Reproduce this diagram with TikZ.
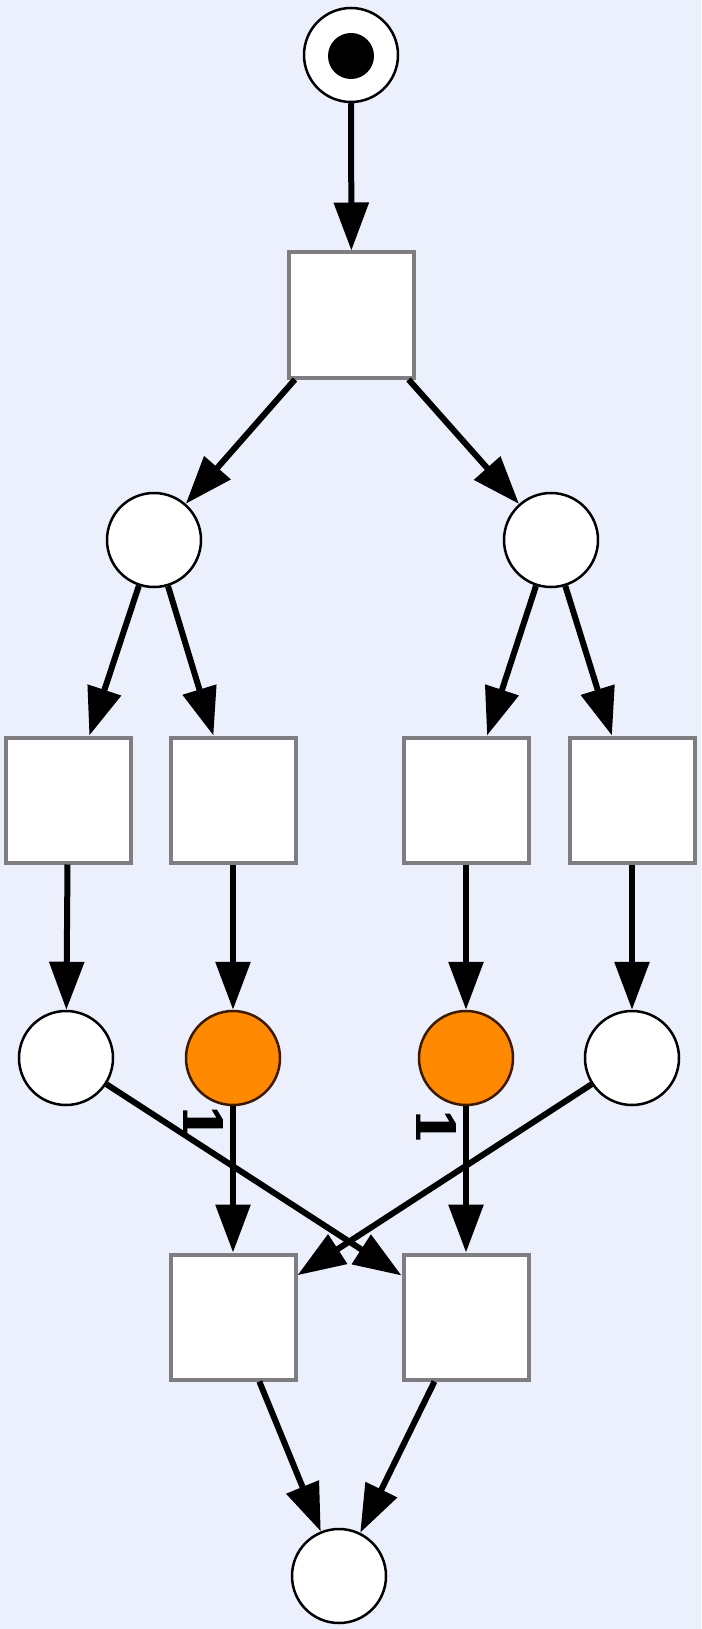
\documentclass[tikz,border=0pt]{standalone}
\usepackage{fontspec}
\setmainfont{DejaVu Serif}
\newfontfamily\heavyserif[FakeBold=2.5]{DejaVu Serif Bold}
\usetikzlibrary{arrows.meta}

\definecolor{canvas}{RGB}{236,240,252}
\definecolor{boxline}{RGB}{125,125,130}
\definecolor{hot}{RGB}{255,137,0}
\definecolor{hotline}{RGB}{60,25,0}

\tikzset{
  place/.style={circle, draw=black, fill=white, line width=2.5pt,
    minimum size=94pt, inner sep=0pt},
  hotplace/.style={place, fill=hot, draw=hotline},
  trans/.style={rectangle, draw=boxline, fill=white, line width=4pt,
    minimum size=125pt, inner sep=0pt},
  token/.style={circle, fill=black, minimum size=46pt, inner sep=0pt},
  arc/.style={draw=black, line width=6pt,
    -{Triangle[length=48pt,width=34pt]}},
  weight/.style={font=\fontsize{52}{52}\heavyserif, rotate=-90,
    inner sep=0pt}
}

\begin{document}
\begin{tikzpicture}[x=1pt, y=-1pt]
  % canvas
  \fill[canvas] (0,0) rectangle (701,1629);
  \useasboundingbox (0,0) rectangle (701,1629);

  % start place with its token
  \node[place] (p0) at (351,55) {};
  \node[token] (tok) at (351,56) {};

  % first transition
  \node[trans] (t0) at (351.5,315) {};

  % branch places
  \node[place] (p1l) at (154,540) {};
  \node[place] (p1r) at (551,540) {};

  % second row of transitions
  \node[trans] (t2a) at (68,800) {};
  \node[trans] (t2b) at (233,800) {};
  \node[trans] (t2c) at (466,800) {};
  \node[trans] (t2d) at (632,800) {};

  % intermediate places
  \node[place]    (p3a) at (66,1058) {};
  \node[hotplace] (p3b) at (233,1058) {};
  \node[hotplace] (p3c) at (466,1058) {};
  \node[place]    (p3d) at (632,1058) {};

  % joining transitions
  \node[trans] (t4a) at (233,1317) {};
  \node[trans] (t4b) at (466,1317) {};

  % end place
  \node[place] (p5) at (339,1576) {};

  % arcs
  \draw[arc] (p0) -- (t0);
  \draw[arc] (t0) -- (p1l);
  \draw[arc] (t0) -- (p1r);
  \draw[arc] (p1l) -- (t2a);
  \draw[arc] (p1l) -- (t2b);
  \draw[arc] (p1r) -- (t2c);
  \draw[arc] (p1r) -- (t2d);
  \draw[arc] (t2a) -- (p3a);
  \draw[arc] (t2b) -- (p3b);
  \draw[arc] (t2c) -- (p3c);
  \draw[arc] (t2d) -- (p3d);
  \draw[arc] (p3a) -- (t4b);
  \draw[arc] (p3d) -- (t4a);
  \draw[arc] (p3b) -- (t4a);
  \draw[arc] (p3c) -- (t4b);
  \draw[arc] (t4a) -- (p5);
  \draw[arc] (t4b) -- (p5);

  % arc weights
  \node[weight] (w1) at (203,1122) {1};
  \node[weight] (w2) at (436,1126) {1};
\end{tikzpicture}
\end{document}
